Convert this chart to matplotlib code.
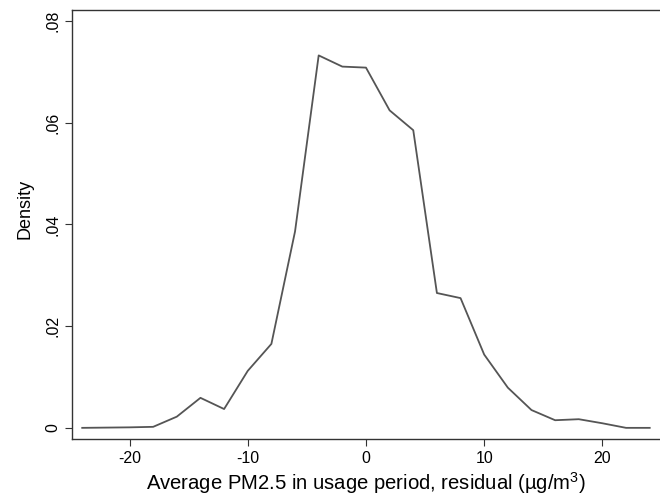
import numpy as np
import matplotlib
matplotlib.use("Agg")
import matplotlib.pyplot as plt

# -----------------------------
# Data
# -----------------------------
residual = [-24, -22, -20, -18, -16, -14, -12, -10, -8, -6, -4, -2, 0,
            2, 4, 6, 8, 10, 12, 14, 16, 18, 20, 22, 24]
density = [0.0, 0.00005, 0.0001, 0.0002, 0.0022, 0.0059, 0.0037, 0.0112,
           0.0165, 0.0386, 0.0732, 0.0710, 0.0708, 0.0624, 0.0585, 0.0265,
           0.0255, 0.0144, 0.0079, 0.0035, 0.0015, 0.0017, 0.0009, 0.0, 0.0]

xticks = [-20, -10, 0, 10, 20]
yticks = [0, 0.02, 0.04, 0.06, 0.08]
ytick_labels = ["0", ".02", ".04", ".06", ".08"]

plt.rcParams['font.family'] = ['Liberation Sans', 'DejaVu Sans']
plt.rcParams['mathtext.default'] = 'regular'

fig = plt.figure(figsize=(6.6, 4.96), dpi=100)
ax = fig.add_axes([0.109, 0.114, 0.891, 0.866])

ax.plot(residual, density, color="#555555", lw=1.3)

ax.set_xlim(-24.87, 24.87)
ax.set_ylim(-0.00228, 0.08214)

ax.set_xticks(xticks)
ax.set_xticklabels([str(t) for t in xticks])
ax.set_yticks(yticks)
ax.set_yticklabels(ytick_labels, rotation=90, va="center")

ax.tick_params(direction="out", length=5, width=0.8, color="#333333",
               labelsize=11.5, pad=3.5)

for side in ["left", "bottom", "top"]:
    ax.spines[side].set_color("#333333")
    ax.spines[side].set_linewidth(1.0)
ax.spines["right"].set_visible(False)

ax.set_xlabel("Average PM2.5 in usage period, residual (µg/m$^{3}$)",
              fontsize=14.6, labelpad=3)
ax.set_ylabel("Density", fontsize=13)
# title sits a bit above the middle of the plot region, as in the source
ax.yaxis.set_label_coords(-0.066, 0.536)

fig.savefig("out.png", dpi=100, facecolor="white")
